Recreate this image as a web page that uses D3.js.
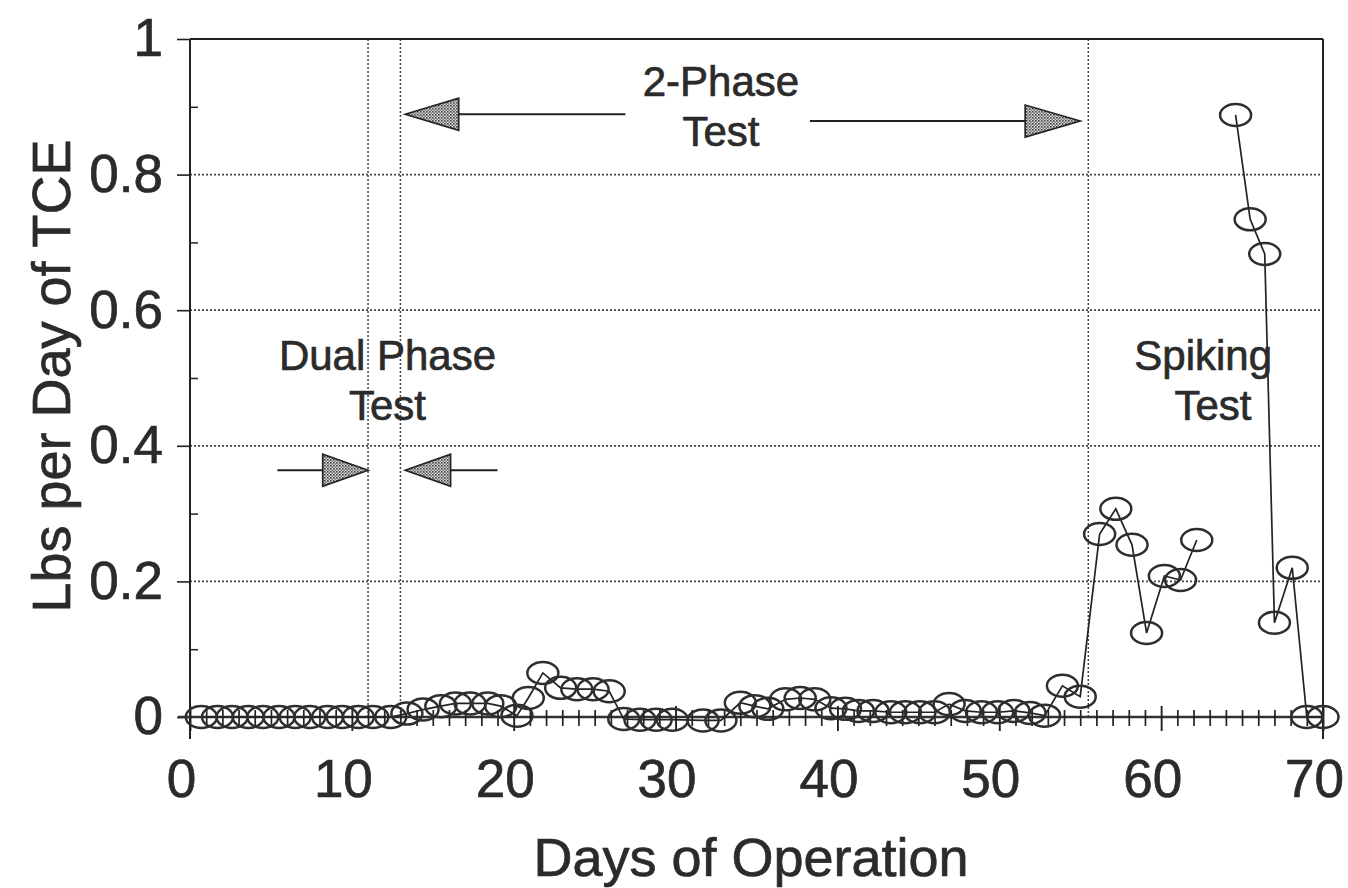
<!DOCTYPE html>
<html><head><meta charset="utf-8">
<script src="https://cdn.jsdelivr.net/npm/d3@7"></script>
<style>
html,body{margin:0;padding:0;background:#fff;}
text{font-family:"Liberation Sans",Arial,sans-serif;fill:#2b2b2b;stroke:#2b2b2b;stroke-width:0.7px;}
</style></head>
<body><svg id="chart" width="1348" height="888"></svg>
<script>
// ---- data ----
const mainDays = [0.7,1.7,2.6,3.6,4.5,5.5,6.5,7.4,8.5,9.4,10.4,11.3,12.4,13.4,14.4,15.5,16.4,17.3,18.4,19.2,20.2,20.9,21.8,22.9,23.9,24.9,25.9,26.8,27.8,28.8,29.8,31.7,32.8,34.0,34.9,35.7,36.8,37.7,38.6,39.6,40.5,41.3,42.2,43.3,44.2,45.1,46.0,46.9,47.9,48.9,49.9,50.9,51.9,52.8,53.9,55.0,56.2,57.2,58.2,59.1,60.2,61.2,62.2];
const mainValues = [0,0,0,0,0,0,0,0,0,0,0,0,0,0.005,0.011,0.016,0.02,0.02,0.02,0.016,0.002,0.028,0.065,0.043,0.041,0.041,0.038,-0.003,-0.004,-0.004,-0.004,-0.005,-0.005,0.021,0.016,0.012,0.026,0.028,0.026,0.013,0.012,0.009,0.009,0.007,0.007,0.007,0.007,0.019,0.009,0.007,0.007,0.009,0.006,0.002,0.046,0.03,0.27,0.307,0.254,0.124,0.208,0.202,0.261];
const spikeDays = [64.6,65.5,66.4,67.0,68.1,69.0,70.0];
const spikeValues = [0.888,0.734,0.683,0.139,0.22,0,0];
const xTickValues = [0,10,20,30,40,50,60,70];
const yTickValues = [0,0.2,0.4,0.6,0.8,1];
const yTickLabels = ["0","0.2","0.4","0.6","0.8","1"];
const phaseLines = [11,13,55.5];
const xLabel = "Days of Operation";
const yLabel = "Lbs per Day of TCE";

// ---- layout ----
const svg = d3.select("#chart");
const x = d3.scaleLinear().domain([0,70]).range([190,1323]);
const y = d3.scaleLinear().domain([0,1]).range([717,39]);

const defs = svg.append("defs");
const pat = defs.append("pattern").attr("id","stip").attr("width",3).attr("height",3).attr("patternUnits","userSpaceOnUse");
pat.append("rect").attr("width",3).attr("height",3).attr("fill","#d8d8d8");
pat.append("rect").attr("width",1.6).attr("height",1.6).attr("fill","#444");
pat.append("rect").attr("x",1.5).attr("y",1.5).attr("width",1.4).attr("height",1.4).attr("fill","#666");

svg.append("g").selectAll("line").data([0.2,0.4,0.6,0.8]).join("line")
  .attr("x1",x(0)).attr("x2",x(70)).attr("y1",d=>y(d)).attr("y2",d=>y(d))
  .attr("stroke","#444").attr("stroke-width",1.8).attr("stroke-dasharray","2,2");
svg.append("g").selectAll("line").data(phaseLines).join("line")
  .attr("x1",d=>x(d)).attr("x2",d=>x(d)).attr("y1",y(0)).attr("y2",y(1))
  .attr("stroke","#444").attr("stroke-width",1.5).attr("stroke-dasharray","2,2");

svg.append("line").attr("x1",x(0)).attr("x2",x(70)).attr("y1",y(1)).attr("y2",y(1)).attr("stroke","#222").attr("stroke-width",1.8);
svg.append("line").attr("x1",x(70)).attr("x2",x(70)).attr("y1",y(1)).attr("y2",y(0)+22).attr("stroke","#222").attr("stroke-width",2);

const yAxis = d3.axisLeft(y).tickValues(yTickValues).tickFormat((d,i)=>yTickLabels[i]).tickSize(13).tickPadding(14);
const gy = svg.append("g").attr("transform",`translate(${x(0)},0)`).call(yAxis);
gy.select(".domain").attr("stroke","#222").attr("stroke-width",2).attr("d",`M0,${y(1)}V${y(0)+22}`);
gy.selectAll(".tick line").attr("stroke","#222").attr("stroke-width",1.6);
gy.selectAll(".tick text").attr("font-size",53).attr("font-family","Liberation Sans, Arial, sans-serif");
const yMinor = d3.axisRight(y).tickValues(d3.range(0.1,1,0.2)).tickSize(8).tickFormat("");
const gym = svg.append("g").attr("transform",`translate(${x(0)},0)`).call(yMinor);
gym.select(".domain").remove();
gym.selectAll(".tick line").attr("stroke","#222").attr("stroke-width",1.5);

svg.append("line").attr("x1",x(0)-12).attr("x2",x(70)).attr("y1",y(0)).attr("y2",y(0)).attr("stroke","#333").attr("stroke-width",2.4);
const xMinor = d3.axisBottom(x).tickValues(d3.range(1,70,1).filter(d=>d%10!==0)).tickSize(9).tickFormat("");
const gxm = svg.append("g").attr("transform",`translate(0,${y(0)})`).call(xMinor);
gxm.select(".domain").remove();
gxm.selectAll(".tick line").attr("stroke","#222").attr("stroke-width",1.7).attr("y1",-7);
const xAxis = d3.axisBottom(x).tickValues(xTickValues).tickSize(14).tickPadding(28);
const gx = svg.append("g").attr("transform",`translate(0,${y(0)})`).call(xAxis);
gx.select(".domain").remove();
gx.selectAll(".tick line").attr("stroke","#222").attr("stroke-width",1.9).attr("y1",-11);
gx.selectAll(".tick text").attr("font-size",53).attr("dx",-9).attr("font-family","Liberation Sans, Arial, sans-serif");

svg.append("text").attr("x",751).attr("y",876).attr("text-anchor","middle").attr("font-size",54).text(xLabel);
svg.append("text").attr("transform","translate(70,376) rotate(-90)").attr("text-anchor","middle").attr("font-size",54).text(yLabel);

const line = d3.line().x(d=>x(d[0])).y(d=>y(d[1]));
const mainPts = mainDays.map((d,i)=>[d,mainValues[i]]);
const spikePts = spikeDays.map((d,i)=>[d,spikeValues[i]]);
[mainPts,spikePts].forEach(pts=>{
  svg.append("path").datum(pts).attr("d",line).attr("fill","none").attr("stroke","#222").attr("stroke-width",1.7);
});
svg.append("g").selectAll("ellipse").data(mainPts.concat(spikePts)).join("ellipse")
  .attr("cx",d=>x(d[0])).attr("cy",d=>y(d[1])).attr("rx",15.5).attr("ry",11)
  .attr("fill","none").attr("stroke","#2e2e2e").attr("stroke-width",2.5);

function arrow(tailX, baseX, tipX, yv){
  const g = svg.append("g");
  g.append("line").attr("x1",x(tailX)).attr("x2",x(baseX)).attr("y1",y(yv)).attr("y2",y(yv)).attr("stroke","#222").attr("stroke-width",2);
  const yy = y(yv);
  g.append("path").attr("d",`M${x(tipX)},${yy}L${x(baseX)},${yy-16}L${x(baseX)},${yy+16}Z`)
    .attr("fill","url(#stip)").attr("stroke","#222").attr("stroke-width",1.7);
}
arrow(26.9,16.6,13.3,0.889);
arrow(38.3,51.6,55.0,0.879);
arrow(5.4,8.2,11.0,0.364);
arrow(19.0,16.1,13.3,0.364);

function label(txt, d, v){
  svg.append("text").attr("x",x(d)).attr("y",y(v)).attr("text-anchor","middle").attr("font-size",42).text(txt);
}
label("2-Phase",32.8,0.916);
label("Test",32.8,0.842);
label("Dual Phase",12.2,0.512);
label("Test",12.2,0.438);
label("Spiking",62.6,0.512);
label("Test",63.2,0.438);
</script></body></html>
